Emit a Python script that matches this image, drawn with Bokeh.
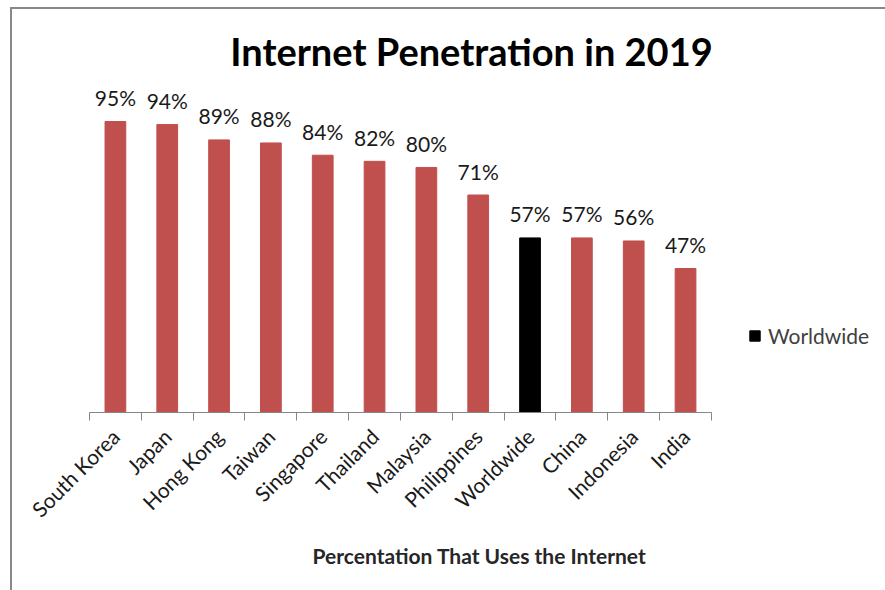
import math
from bokeh.plotting import figure
from bokeh.models import ColumnDataSource, Range1d, FixedTicker, Label, Legend, LegendItem
from bokeh.core.properties import value
from bokeh.embed import file_html
from bokeh.resources import INLINE

# ---- data ----
countries = ["South Korea", "Japan", "Hong Kong", "Taiwan", "Singapore", "Thailand",
             "Malaysia", "Philippines", "Worldwide", "China", "Indonesia", "India"]
penetration = [95, 94, 89, 88, 84, 82, 80, 71, 57, 57, 56, 47]
highlight = "Worldwide"
title_text = "Internet Penetration in 2019"
x_title = "Percentation That Uses the Internet"

RED = "#C0504D"
BLACK = "#000000"
FONT = "Lato"

idx = list(range(len(countries)))
colors = [BLACK if c == highlight else RED for c in countries]
labels = [f"{v}%" for v in penetration]
src = ColumnDataSource(dict(x=idx, top=penetration, color=colors, label=labels))

W, H = 885, 590
frame_left = 73
px_per_cat = 51.83
first_center = 114.9
px_per_unit = 3.063
frame_bottom = 412

x0 = -(first_center - frame_left) / px_per_cat
x1 = x0 + (W - frame_left) / px_per_cat
y1 = frame_bottom / px_per_unit

p = figure(width=W, height=H, output_backend="svg", toolbar_location=None,
           x_range=Range1d(x0, x1), y_range=Range1d(0, y1),
           min_border_left=frame_left, min_border_right=0, min_border_top=0,
           min_border_bottom=H - frame_bottom)
p.background_fill_alpha = 0
p.border_fill_alpha = 0
p.outline_line_color = None
p.xgrid.visible = False
p.ygrid.visible = False
p.yaxis.visible = False
# chart-area border (left and top edges) drawn behind the transparent canvas
p.styles = {"background": "linear-gradient(#888888,#888888) 10px 7px / 2px 100% no-repeat, "
                          "linear-gradient(#888888,#888888) 10px 7px / 100% 2px no-repeat, white"}

r = p.vbar(x="x", top="top", width=0.40, bottom=0, color="color", source=src)

p.text(x="x", y="top", text="label", source=src, text_align="center",
       text_baseline="alphabetic", y_offset=-24, text_font=value(FONT),
       text_font_size="21px", text_color="#1a1a1a")

ax = p.xaxis[0]
ax.ticker = FixedTicker(ticks=idx, minor_ticks=[i - 0.5 for i in range(len(countries) + 1)])
ax.bounds = (-0.5, len(countries) - 0.5)
ax.major_label_overrides = {i: c for i, c in zip(idx, countries)}
ax.major_label_orientation = math.pi / 4
ax.major_label_text_font = FONT
ax.major_label_text_font_size = "21px"
ax.major_label_text_color = "#1a1a1a"
ax.major_label_standoff = 12
ax.major_tick_line_color = None
ax.major_tick_out = 0
ax.major_tick_in = 0
ax.minor_tick_line_color = "#868686"
ax.minor_tick_out = 8
ax.minor_tick_in = 0
ax.axis_line_color = "#868686"
ax.axis_label = x_title
ax.axis_label_text_font = FONT
ax.axis_label_text_font_style = "bold"
ax.axis_label_text_font_size = "21px"
ax.axis_label_text_color = "#262626"
ax.axis_label_standoff = 10

# title
p.add_layout(Label(x=x0 + (471 - frame_left) / px_per_cat, y=(frame_bottom - 50) / px_per_unit,
                   text=title_text, text_align="center", text_baseline="middle",
                   text_font=FONT, text_font_style="bold", text_font_size="38px",
                   text_color="#000000"))

# legend
legend = Legend(items=[LegendItem(label=highlight, renderers=[r], index=countries.index(highlight))],
                location=(748 - frame_left, 64), orientation="vertical", padding=0, margin=0,
                glyph_width=13, glyph_height=13, label_standoff=7,
                label_text_font=FONT, label_text_font_size="21px", label_text_color="#404040",
                border_line_color=None, background_fill_alpha=0)
p.add_layout(legend)

open("out.html", "w").write(file_html(p, INLINE))
